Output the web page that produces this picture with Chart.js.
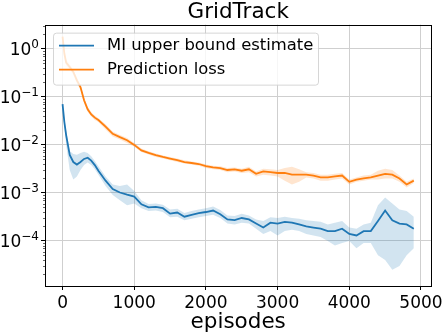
<!DOCTYPE html>
<html>
<head>
<meta charset="utf-8">
<script src="https://cdn.jsdelivr.net/npm/chart.js@4"></script>
<style>
  html, body { margin: 0; padding: 0; background: #fff; }
  canvas { display: block; }
</style>
</head>
<body>
<canvas id="gridTrackChart" width="446" height="336"></canvas>
<script>
// --- data ---
const episodes = [0, 25, 50, 100, 150, 200, 250, 300, 350, 400, 450, 500,
  600, 700, 800, 900, 1000, 1100, 1200, 1300, 1400, 1500, 1600, 1700, 1800, 1900,
  2000, 2100, 2200, 2300, 2400, 2500, 2600, 2700, 2800, 2900,
  3000, 3100, 3200, 3300, 3400, 3500, 3600, 3700, 3800, 3900,
  4000, 4100, 4200, 4300, 4400, 4500, 4600, 4700, 4800, 4900];

// MI upper bound estimate (blue) and its band
const miEstimate = [0.071, 0.03, 0.016, 0.0062, 0.0044, 0.0039, 0.0044, 0.0051, 0.0054, 0.0047, 0.0038, 0.0029,
  0.0018, 0.0012, 0.00102, 0.00092, 0.00084, 0.00058, 0.0005, 0.00051, 0.00048, 0.00037, 0.00039, 0.00032, 0.00035, 0.00038,
  0.0004, 0.00043, 0.00036, 0.00028, 0.00027, 0.0003, 0.00028, 0.00023, 0.00019, 0.00024,
  0.00023, 0.00025, 0.00024, 0.00022, 0.0002, 0.00019, 0.00018, 0.00016, 0.00016, 0.00018,
  0.00014, 0.00013, 0.00016, 0.00016, 0.00026, 0.00043, 0.00027, 0.00023, 0.00022, 0.00018];
const miLow = [0.068, 0.024, 0.01, 0.003, 0.0019, 0.0022, 0.003, 0.0038, 0.0043, 0.0038, 0.0031, 0.0024,
  0.0014, 0.0009, 0.0007, 0.00055, 0.0006, 0.00048, 0.00042, 0.00043, 0.0004, 0.00031, 0.00032, 0.00027, 0.00029, 0.00031,
  0.00033, 0.00035, 0.0003, 0.00023, 0.00022, 0.00024, 0.00023, 0.00018, 0.00014, 0.00016,
  0.00013, 0.00016, 0.00017, 0.00016, 0.00014, 0.00013, 0.00012, 0.0001, 0.00008, 0.00009,
  0.0001, 0.00007, 0.00009, 0.00009, 0.00005, 0.00004, 0.000025, 0.00003, 0.00005, 0.00007];
const miHigh = [0.075, 0.036, 0.02, 0.0075, 0.0065, 0.0062, 0.0068, 0.0072, 0.0068, 0.0058, 0.0046, 0.0036,
  0.0022, 0.0015, 0.0014, 0.0015, 0.0011, 0.0007, 0.00059, 0.0006, 0.00057, 0.00045, 0.00047, 0.00038, 0.00042, 0.00045,
  0.00048, 0.00052, 0.00044, 0.00034, 0.00033, 0.00037, 0.00034, 0.00028, 0.00026, 0.00031,
  0.0003, 0.00032, 0.0003, 0.00029, 0.00027, 0.00026, 0.00025, 0.00022, 0.00024, 0.00026,
  0.00019, 0.00018, 0.00022, 0.00024, 0.00055, 0.0008, 0.0006, 0.00045, 0.00042, 0.00032];

// Prediction loss (orange) and its band
const predLoss = [1.8, 0.8, 0.52, 0.42, 0.33, 0.22, 0.16, 0.085, 0.055, 0.043, 0.037, 0.033,
  0.024, 0.017, 0.0145, 0.0125, 0.01, 0.0077, 0.0068, 0.0061, 0.0056, 0.0052, 0.0048, 0.0044, 0.0042, 0.004,
  0.0036, 0.0034, 0.0033, 0.003, 0.0031, 0.0029, 0.0031, 0.0025, 0.0028, 0.0027,
  0.0026, 0.0026, 0.0024, 0.0024, 0.0024, 0.0023, 0.0021, 0.0021, 0.0022, 0.0023,
  0.0017, 0.0019, 0.002, 0.0021, 0.0023, 0.0025, 0.0024, 0.002, 0.0015, 0.0018];
const lossLow = [1.6, 0.7, 0.45, 0.37, 0.29, 0.19, 0.14, 0.075, 0.049, 0.039, 0.033, 0.03,
  0.021, 0.015, 0.013, 0.011, 0.0091, 0.0071, 0.0063, 0.0056, 0.0052, 0.0048, 0.0044, 0.0041, 0.0039, 0.0037,
  0.0033, 0.0031, 0.003, 0.0027, 0.0028, 0.0026, 0.0027, 0.0022, 0.0024, 0.0023,
  0.0022, 0.0018, 0.0015, 0.0017, 0.0021, 0.002, 0.0018, 0.0018, 0.0019, 0.002,
  0.0015, 0.0017, 0.0018, 0.0019, 0.0019, 0.002, 0.002, 0.0017, 0.0013, 0.0016];
const lossHigh = [2.0, 0.9, 0.6, 0.48, 0.37, 0.25, 0.18, 0.096, 0.062, 0.048, 0.041, 0.036,
  0.027, 0.019, 0.016, 0.014, 0.011, 0.0084, 0.0074, 0.0066, 0.006, 0.0056, 0.0052, 0.0048, 0.0045, 0.0043,
  0.0039, 0.0037, 0.0036, 0.0033, 0.0034, 0.0032, 0.0035, 0.0028, 0.0032, 0.0031,
  0.003, 0.0033, 0.0035, 0.0031, 0.0027, 0.0026, 0.0024, 0.0024, 0.0025, 0.0026,
  0.0019, 0.0021, 0.0023, 0.0024, 0.0029, 0.0032, 0.003, 0.0023, 0.0017, 0.002];

const xTicks = [0, 1000, 2000, 3000, 4000, 5000];
const yTicks = [1e-4, 1e-3, 1e-2, 1e-1, 1e0];

const BLUE = '#1f77b4';
const ORANGE = '#ff7f0e';
const FONT = "'DejaVu Sans', sans-serif";

function toPoints(values) {
    return values.map((v, i) => ({ x: episodes[i], y: v }));
}

// frame, log tick labels, minor ticks and the legend box, drawn like matplotlib does
const mplDecor = {
    id: 'mplDecor',
    afterDraw(chart) {
        const ctx = chart.ctx;
        const area = chart.chartArea;
        const yScale = chart.scales.y;
        ctx.save();

        // minor ticks on the log axis
        ctx.strokeStyle = '#000';
        ctx.lineWidth = 0.6;
        for (let e = -5; e <= 0; e++) {
            for (let m = 2; m <= 9; m++) {
                const v = m * Math.pow(10, e);
                if (v < yScale.min || v > yScale.max) continue;
                const py = Math.round(yScale.getPixelForValue(v)) + 0.5;
                ctx.beginPath();
                ctx.moveTo(area.left - 2, py);
                ctx.lineTo(area.left, py);
                ctx.stroke();
            }
        }

        // "10" with a raised exponent, right-aligned next to the ticks
        ctx.fillStyle = '#000';
        ctx.textBaseline = 'alphabetic';
        ctx.textAlign = 'left';
        yTicks.forEach(v => {
            const exp = String(Math.round(Math.log10(v))).replace('-', '\u2212');
            const py = yScale.getPixelForValue(v);
            ctx.font = `12px ${FONT}`;
            const ew = ctx.measureText(exp).width;
            ctx.font = `17px ${FONT}`;
            const bw = ctx.measureText('10').width;
            const right = area.left - 6;
            const x0 = right - ew - bw;
            ctx.fillText('10', x0, py + 6);
            ctx.font = `12px ${FONT}`;
            ctx.fillText(exp, x0 + bw, py - 1);
        });

        // axes frame
        ctx.lineWidth = 1;
        ctx.strokeStyle = '#000';
        ctx.strokeRect(Math.round(area.left) + 0.5, Math.round(area.top) + 0.5,
            Math.round(area.right - area.left), Math.round(area.bottom - area.top));

        // legend
        const lx = area.left + 8, ly = area.top + 8, lw = 265, lh = 52;
        ctx.fillStyle = 'rgba(255,255,255,0.8)';
        ctx.strokeStyle = 'rgba(204,204,204,0.8)';
        ctx.lineWidth = 1;
        ctx.beginPath();
        ctx.roundRect(lx + 0.5, ly + 0.5, lw, lh, 3);
        ctx.fill();
        ctx.stroke();

        const entries = chart.data.datasets.slice(0, 2);
        ctx.font = `16.4px ${FONT}`;
        ctx.textBaseline = 'middle';
        entries.forEach((ds, i) => {
            const ry = ly + 13 + i * 24;
            ctx.strokeStyle = ds.borderColor;
            ctx.lineWidth = 1.8;
            ctx.beginPath();
            ctx.moveTo(lx + 6, ry);
            ctx.lineTo(lx + 41, ry);
            ctx.stroke();
            ctx.fillStyle = '#000';
            ctx.fillText(ds.label, lx + 54, ry);
        });
        ctx.restore();
    }
};

const ctx = document.getElementById('gridTrackChart');
new Chart(ctx, {
    type: 'line',
    data: {
        datasets: [
            { label: 'MI upper bound estimate', data: toPoints(miEstimate), borderColor: BLUE,
              borderWidth: 1.8, pointRadius: 0, fill: false, order: 0 },
            { label: 'Prediction loss', data: toPoints(predLoss), borderColor: ORANGE,
              borderWidth: 1.8, pointRadius: 0, fill: false, order: 0 },
            { label: 'mi-low', data: toPoints(miLow), borderWidth: 0, pointRadius: 0, fill: false, order: 1 },
            { label: 'mi-high', data: toPoints(miHigh), borderWidth: 0, pointRadius: 0,
              fill: '-1', backgroundColor: 'rgba(31,119,180,0.2)', order: 1 },
            { label: 'loss-low', data: toPoints(lossLow), borderWidth: 0, pointRadius: 0, fill: false, order: 1 },
            { label: 'loss-high', data: toPoints(lossHigh), borderWidth: 0, pointRadius: 0,
              fill: '-1', backgroundColor: 'rgba(255,127,14,0.2)', order: 1 }
        ]
    },
    options: {
        responsive: false,
        animation: false,
        devicePixelRatio: 1,
        layout: { padding: { left: 0, right: 11, top: 0, bottom: 0 } },
        elements: { line: { tension: 0 } },
        plugins: {
            legend: { display: false },
            tooltip: { enabled: false },
            title: {
                display: true,
                fullSize: false,
                text: 'GridTrack',
                color: '#000',
                font: { family: FONT, size: 21.5, weight: 'normal', lineHeight: 1.1 },
                padding: { top: 1, bottom: 0 }
            }
        },
        scales: {
            x: {
                type: 'linear',
                min: -245,
                max: 5145,
                afterBuildTicks: scale => { scale.ticks = xTicks.map(v => ({ value: v })); },
                afterFit: scale => { scale.height = 50; },
                ticks: { color: '#000', font: { family: FONT, size: 17 }, padding: 3, maxRotation: 0,
                    callback: v => String(v) },
                grid: { color: '#cfcfcf', lineWidth: 1, tickColor: '#000', tickLength: 4 },
                border: { display: false },
                title: { display: true, text: 'episodes', color: '#000',
                    font: { family: FONT, size: 21.5 }, padding: { top: 0, bottom: 1 } }
            },
            y: {
                type: 'logarithmic',
                min: 1.15e-5,
                max: 3.2,
                afterBuildTicks: scale => { scale.ticks = yTicks.map(v => ({ value: v })); },
                afterFit: scale => { scale.width = 45; },
                ticks: { display: false },
                grid: { color: '#cfcfcf', lineWidth: 1, tickColor: '#000', tickLength: 4 },
                border: { display: false }
            }
        }
    },
    plugins: [mplDecor]
});
</script>
</body>
</html>
